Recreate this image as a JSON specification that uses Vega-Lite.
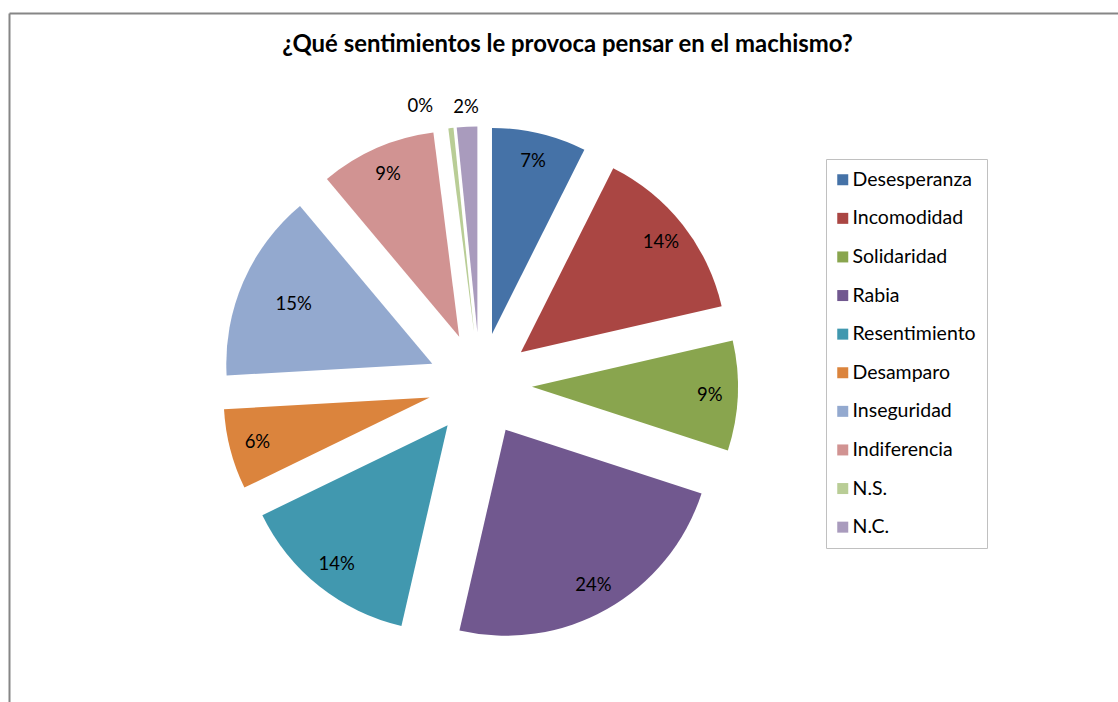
{
  "$schema": "https://vega.github.io/schema/vega-lite/v6.json",
  "width": 1109,
  "height": 689,
  "autosize": "none",
  "padding": {"left": 9, "top": 13, "right": 0, "bottom": 0},
  "background": "white",
  "title": {
    "text": "¿Qué sentimientos le provoca pensar en el machismo?",
    "frame": "group",
    "anchor": "middle",
    "orient": "top",
    "offset": -41,
    "baseline": "alphabetic",
    "dx": 4,
    "dy": 22,
    "font": "Lato",
    "fontSize": 23.9,
    "fontWeight": "bold",
    "color": "black"
  },
  "data": {
    "values": [
      {"cat": "Desesperanza", "share": 0.074},
      {"cat": "Incomodidad", "share": 0.140},
      {"cat": "Solidaridad", "share": 0.086},
      {"cat": "Rabia", "share": 0.236},
      {"cat": "Resentimiento", "share": 0.142},
      {"cat": "Desamparo", "share": 0.063},
      {"cat": "Inseguridad", "share": 0.148},
      {"cat": "Indiferencia", "share": 0.091},
      {"cat": "N.S.", "share": 0.004},
      {"cat": "N.C.", "share": 0.016}
    ]
  },
  "transform": [
    {"window": [{"op": "row_number", "as": "rn"}, {"op": "sum", "field": "share", "as": "cum"}], "frame": [null, 0]},
    {"joinaggregate": [{"op": "sum", "field": "share", "as": "total"}]},
    {"calculate": "2*PI*(datum.cum - datum.share/2)/datum.total", "as": "mid"},
    {"calculate": "sin(datum.mid)", "as": "ex"},
    {"calculate": "cos(datum.mid)", "as": "ey"}
  ],
  "encoding": {
    "x": {
      "field": "ex", "type": "quantitative",
      "scale": {"domain": [-9.0577, 12.269], "nice": false, "zero": false},
      "axis": {"orient": "top", "ticks": false, "labels": false, "grid": false, "title": null, "domainColor": "#868686", "domainWidth": 2}
    },
    "y": {
      "field": "ey", "type": "quantitative",
      "scale": {"domain": [-6.106, 7.144], "nice": false, "zero": false},
      "axis": {"orient": "left", "ticks": false, "labels": false, "grid": false, "title": null, "domainColor": "#868686", "domainWidth": 2}
    },
    "theta": {"field": "share", "type": "quantitative", "stack": true},
    "order": {"field": "rn", "type": "quantitative"}
  },
  "layer": [
    {
      "mark": {"type": "arc", "radius": 206},
      "encoding": {
        "color": {
          "field": "cat", "type": "nominal",
          "scale": {
            "domain": ["Desesperanza", "Incomodidad", "Solidaridad", "Rabia", "Resentimiento", "Desamparo", "Inseguridad", "Indiferencia", "N.S.", "N.C."],
            "range": ["#4572A7", "#AA4643", "#89A54E", "#71588F", "#4198AF", "#DB843D", "#93A9CF", "#D19392", "#B9CD96", "#A99BBD"]
          },
          "legend": {
            "orient": "none", "legendX": 817, "legendY": 146, "title": null,
            "symbolType": "square", "symbolSize": 121, "symbolStrokeWidth": 0, "symbolOffset": -4,
            "labelFont": "Lato", "labelFontSize": 19.5, "labelColor": "black",
            "rowPadding": 17.6, "padding": 11, "fillColor": "white", "strokeColor": "#c0c0c0",
            "labelOffset": 0, "labelLimit": 300
          }
        }
      }
    },
    {
      "mark": {"type": "text", "radius": 178, "font": "Lato", "fontSize": 18.5, "color": "black"},
      "encoding": {
        "text": {"condition": {"test": "datum.share >= 0.03 && datum.cat !== 'Inseguridad'", "field": "share", "format": ".0%"}, "value": ""}
      }
    },
    {
      "mark": {"type": "text", "radius": 151, "font": "Lato", "fontSize": 18.5, "color": "black"},
      "encoding": {
        "text": {"condition": {"test": "datum.cat === 'Inseguridad'", "field": "share", "format": ".0%"}, "value": ""}
      }
    },
    {
      "mark": {"type": "text", "radius": 226, "font": "Lato", "fontSize": 18.5, "color": "black"},
      "encoding": {
        "text": {"condition": {"test": "datum.cat === 'N.C.'", "field": "share", "format": ".0%"}, "value": ""}
      }
    },
    {
      "mark": {"type": "text", "radius": 228, "dx": -28, "font": "Lato", "fontSize": 18.5, "color": "black"},
      "encoding": {
        "text": {"condition": {"test": "datum.cat === 'N.S.'", "field": "share", "format": ".0%"}, "value": ""}
      }
    }
  ],
  "config": {
    "view": {"stroke": null}
  }
}
